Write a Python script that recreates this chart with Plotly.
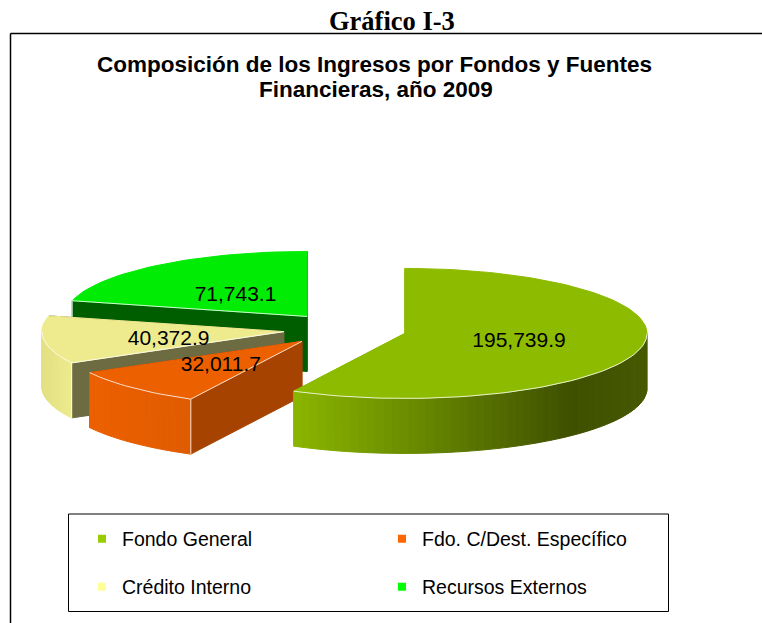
import math
import plotly.graph_objects as go

# ---- data ----
categories = ["Fondo General", "Fdo. C/Dest. Específico", "Crédito Interno", "Recursos Externos"]
values = [195739.9, 32011.7, 40372.9, 71743.1]
value_labels = ["195,739.9", "32,011.7", "40,372.9", "71,743.1"]

# ---- styles ----
top_colors = ["#8DBB00", "#EC6000", "#EDEB8D", "#00EC05"]
side_colors = ["#8DBB00", "#A64300", "#6C6B42", "#005E00"]
legend_colors = ["#99CC00", "#FF6600", "#FFFF99", "#00FF00"]
label_radius = [0.485, 0.48, 0.48, 0.48]
label_nudge_y = [1, 2, 4, 4]
highlight_cut_edge = [False, True, True, True]
wall_stops = [
    [(0.0, (138, 181, 0)), (0.33, (106, 140, 0)), (0.78, (63, 80, 0)), (1.0, (70, 88, 0))],
    [(0.0, (236, 96, 0)), (1.0, (224, 92, 0))],
    [(0.0, (226, 224, 130)), (1.0, (237, 235, 141))],
    [(0.0, (0, 200, 0)), (1.0, (0, 200, 0))],
]
HIGHLIGHT = "rgba(255,255,255,0.8)"

# ---- projection of the tilted, exploded pie (in page-sized axis units) ----
CX, CY, RX, RY = 345.0, 329.5, 242.0, 65.0
EXPLODE, DEPTH = 0.255, 55.0
total = sum(values)


def pt(apex, deg, r=1.0, dy=0.0):
    a = math.radians(deg)
    return apex[0] + r * RX * math.sin(a), apex[1] - r * RY * math.cos(a) + dy


def mix(stops, f):
    for (f0, c0), (f1, c1) in zip(stops, stops[1:]):
        if f <= f1:
            t = (f - f0) / (f1 - f0)
            return "rgb(%d,%d,%d)" % tuple(round(p + (q - p) * t) for p, q in zip(c0, c1))
    return "rgb(%d,%d,%d)" % stops[-1][1]


def poly(fig, pts, fill, line=None, width=1.0):
    xs = [p[0] for p in pts] + [pts[0][0]]
    ys = [p[1] for p in pts] + [pts[0][1]]
    fig.add_trace(go.Scatter(x=xs, y=ys, mode="lines", fill="toself", fillcolor=fill,
                             line=dict(color=line or fill, width=width),
                             showlegend=False, hoverinfo="skip"))


def stroke(fig, pts):
    fig.add_trace(go.Scatter(x=[p[0] for p in pts], y=[p[1] for p in pts], mode="lines",
                             line=dict(color=HIGHLIGHT, width=1),
                             showlegend=False, hoverinfo="skip"))


fig = go.Figure()
slices = []
start = 0.0
for i, v in enumerate(values):
    sweep = v / total * 360.0
    mid = start + sweep / 2
    a = math.radians(mid)
    apex = (CX + EXPLODE * RX * math.sin(a), CY - EXPLODE * RY * math.cos(a))
    slices.append((i, start, start + sweep, mid, apex))
    start += sweep

label_x, label_y = [], []
for i, s, e, mid, apex in [slices[3], slices[2], slices[1], slices[0]]:
    n = max(2, int((e - s) / 2))
    angs = [s + (e - s) * k / n for k in range(n + 1)]
    # cut faces, back one first
    faces = sorted([s, e], key=lambda d: pt(apex, d)[1])
    for d in faces:
        p = pt(apex, d)
        poly(fig, [apex, p, (p[0], p[1] + DEPTH), (apex[0], apex[1] + DEPTH)], side_colors[i])
    # outer wall
    front = [d for d in angs if math.cos(math.radians(d)) < 0.02]
    xs = [pt(apex, d)[0] for d in front]
    if xs:
        lo, hi = min(xs), max(xs)
        for d0, d1 in zip(angs, angs[1:]):
            if math.cos(math.radians((d0 + d1) / 2)) < 0:
                p0, p1 = pt(apex, d0), pt(apex, d1)
                f = ((p0[0] + p1[0]) / 2 - lo) / max(hi - lo, 1)
                poly(fig, [p0, p1, (p1[0], p1[1] + DEPTH), (p0[0], p0[1] + DEPTH)],
                     mix(wall_stops[i], min(max(f, 0), 1)))
    # top face
    poly(fig, [apex] + [pt(apex, d) for d in angs], top_colors[i])
    # light edges between the top and the sides
    if front:
        stroke(fig, [pt(apex, d) for d in front])
    if highlight_cut_edge[i]:
        p = pt(apex, faces[-1])
        stroke(fig, [apex, p, (p[0], p[1] + DEPTH)])
    lx, ly = pt(apex, mid, label_radius[i])
    label_x.append(lx)
    label_y.append(ly + label_nudge_y[i])

fig.add_trace(go.Scatter(x=label_x, y=label_y, mode="text",
                         text=[value_labels[i] for i in (3, 2, 1, 0)],
                         textfont=dict(family="Liberation Sans", size=21, color="black"),
                         showlegend=False, hoverinfo="skip"))

# legend entries
for i, name in enumerate(categories):
    fig.add_trace(go.Scatter(x=[None], y=[None], mode="markers", name=name,
                             marker=dict(symbol="square", size=8, color=legend_colors[i]),
                             legend="legend" if i < 2 else "legend2"))

legend_font = dict(family="Liberation Sans", size=19.5, color="black")
leg = dict(orientation="h", font=legend_font, entrywidth=255, entrywidthmode="pixels",
           x=82 / 762, xanchor="left", yanchor="middle", bgcolor="rgba(0,0,0,0)",
           borderwidth=0, itemclick=False, itemdoubleclick=False)

title_font = dict(family="Liberation Sans", size=22.5, color="black")
fig.update_layout(
    width=762, height=623, margin=dict(l=0, r=0, t=0, b=0),
    paper_bgcolor="white", plot_bgcolor="white", showlegend=True,
    xaxis=dict(range=[0, 762], visible=False, fixedrange=True),
    yaxis=dict(range=[623, 0], visible=False, fixedrange=True),
    legend=dict(leg, y=1 - 539 / 623),
    legend2=dict(leg, y=1 - 587 / 623),
    shapes=[
        dict(type="line", xref="x", yref="y", x0=10.5, x1=10.5, y0=33.5, y1=623,
             line=dict(color="black", width=1.5)),
        dict(type="line", xref="x", yref="y", x0=10.5, x1=762, y0=33.5, y1=33.5,
             line=dict(color="black", width=1.5)),
        dict(type="rect", xref="x", yref="y", x0=68.5, x1=668.5, y0=514, y1=611.5,
             line=dict(color="black", width=1), fillcolor="rgba(0,0,0,0)", layer="below"),
    ],
    annotations=[
        dict(text="<b>Gráfico I-3</b>", x=391.5, y=21, xref="x", yref="y", showarrow=False,
             font=dict(family="Liberation Serif", size=26.5, color="black")),
        dict(text="<b>Composición de los Ingresos por Fondos y Fuentes</b>",
             x=374.5, y=64, xref="x", yref="y", showarrow=False, font=title_font),
        dict(text="<b>Financieras, año 2009</b>",
             x=376, y=89, xref="x", yref="y", showarrow=False, font=title_font),
    ],
)
fig.write_html("out.html", config=dict(displayModeBar=False),
               post_script="document.body.style.margin='0';document.body.style.overflow='hidden';")
